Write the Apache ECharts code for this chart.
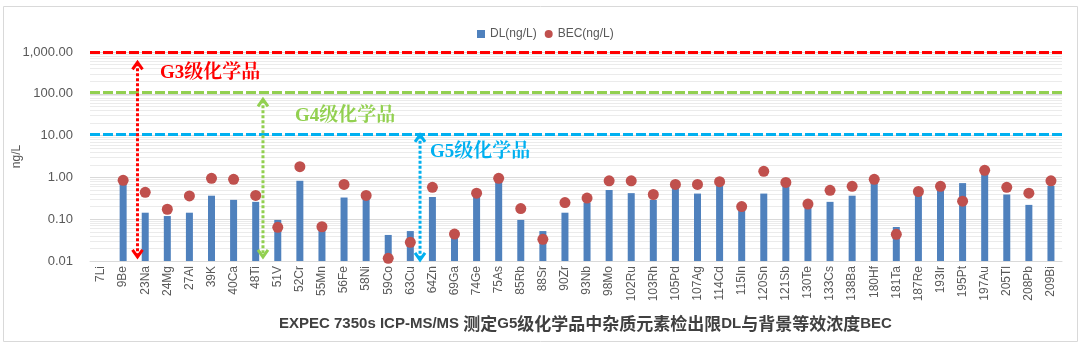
<!DOCTYPE html>
<html>
<head>
<meta charset="utf-8">
<script src="https://cdn.jsdelivr.net/npm/echarts@6/dist/echarts.min.js"></script>
<style>
  html, body { margin: 0; padding: 0; background: #fff; }
  #main { width: 1090px; height: 351px; }
</style>
</head>
<body>
<div id="main"></div>
<script>
// categories (isotope + element)
const elements = ['7Li', '9Be', '23Na', '24Mg', '27Al', '39K', '40Ca', '48Ti', '51V', '52Cr',
  '55Mn', '56Fe', '58Ni', '59Co', '63Cu', '64Zn', '69Ga', '74Ge', '75As', '85Rb',
  '88Sr', '90Zr', '93Nb', '98Mo', '102Ru', '103Rh', '105Pd', '107Ag', '114Cd', '115In',
  '120Sn', '121Sb', '130Te', '133Cs', '138Ba', '180Hf', '181Ta', '187Re', '193Ir', '195Pt',
  '197Au', '205Tl', '208Pb', '209Bi'];

// detection limit, ng/L
const dlValues = [null, 0.85, 0.143, 0.119, 0.143, 0.365, 0.29, 0.26, 0.096, 0.83,
  0.06, 0.33, 0.34, 0.042, 0.052, 0.34, 0.036, 0.36, 0.87, 0.096,
  0.052, 0.143, 0.25, 0.50, 0.42, 0.29, 0.60, 0.41, 0.72, 0.18,
  0.41, 0.68, 0.20, 0.26, 0.365, 0.79, 0.065, 0.43, 0.55, 0.73,
  1.29, 0.39, 0.22, 0.63];

// background equivalent concentration, ng/L
const becValues = [null, 0.85, 0.44, 0.173, 0.36, 0.95, 0.90, 0.37, 0.064, 1.80,
  0.066, 0.68, 0.37, 0.0116, 0.028, 0.58, 0.044, 0.42, 0.95, 0.18,
  0.033, 0.25, 0.32, 0.83, 0.83, 0.39, 0.68, 0.68, 0.79, 0.20,
  1.40, 0.76, 0.23, 0.49, 0.61, 0.90, 0.0436, 0.46, 0.61, 0.27,
  1.48, 0.58, 0.42, 0.83];

// grade limits (dashed lines)
const gradeNames = ['G3级化学品', 'G4级化学品', 'G5级化学品'];
const gradeLimits = [1000, 107, 10.7];
const gradeColors = ['#FF0000', '#92D050', '#00B0F0'];

const chart = echarts.init(document.getElementById('main'));

// minor log gridlines 2..9 per decade
const minorLines = [];
for (let e = -2; e < 3; e++) {
  for (let m = 2; m <= 9; m++) {
    minorLines.push({ yAxis: m * Math.pow(10, e) });
  }
}

const fmt = v => Number(v).toLocaleString('en-US', { minimumFractionDigits: 2, maximumFractionDigits: 2 });

const option = {
  animation: false,
  textStyle: { fontFamily: '"Liberation Sans", "Noto Sans CJK SC", sans-serif' },
  title: {
    text: '{a|EXPEC 7350s ICP-MS/MS }{b|测定}{a|G5}{b|级化学品中杂质元素检出限}{a|DL}{b|与背景等效浓度}{a|BEC}',
    left: 274,
    top: 310,
    textStyle: {
      rich: {
        a: { fontSize: 15, fontWeight: 'bold', color: '#404040', fontFamily: '"Liberation Sans Narrow", "Liberation Sans", sans-serif' },
        b: { fontSize: 17, fontWeight: 'bold', color: '#404040', fontFamily: '"Noto Sans CJK SC", sans-serif' }
      }
    }
  },
  legend: {
    top: 23,
    left: 472,
    itemGap: 8,
    itemWidth: 8,
    itemHeight: 8,
    textStyle: { fontSize: 12, color: '#595959' },
    data: [
      { name: 'DL(ng/L)', icon: 'rect' },
      { name: 'BEC(ng/L)', icon: 'circle' }
    ]
  },
  grid: { left: 90, right: 28, top: 52, bottom: 90, outerBoundsMode: 'none', containLabel: false },
  xAxis: {
    type: 'category',
    data: elements,
    axisLine: { lineStyle: { color: '#d9d9d9' } },
    axisTick: { show: false },
    axisLabel: { rotate: 90, fontSize: 12, color: '#595959', interval: 0, margin: 5 }
  },
  yAxis: {
    type: 'log',
    logBase: 10,
    min: 0.01,
    max: 1000,
    startValue: 0.01,
    name: 'ng/L',
    nameLocation: 'middle',
    nameGap: 67,
    nameMoveOverlap: false,
    nameRotate: 90,
    nameTextStyle: { fontSize: 12, color: '#595959' },
    axisLine: { show: false },
    axisTick: { show: false },
    axisLabel: { fontSize: 13, color: '#595959', margin: 17, formatter: fmt },
    splitLine: { lineStyle: { color: '#d9d9d9', width: 1 } }
  },
  series: [
    {
      name: 'DL(ng/L)',
      type: 'bar',
      data: dlValues,
      barWidth: 7,
      itemStyle: { color: '#4F81BD' },
      markLine: {
        silent: true,
        symbol: 'none',
        label: { show: false },
        lineStyle: { color: '#ebebeb', width: 1, type: 'solid' },
        data: minorLines,
        z: 0
      },
      z: 3
    },
    {
      name: 'BEC(ng/L)',
      type: 'scatter',
      data: becValues,
      symbol: 'circle',
      symbolSize: 11,
      itemStyle: { color: '#C0504D', opacity: 1 },
      markLine: {
        silent: true,
        symbol: 'none',
        label: { show: false },
        data: gradeLimits.map((v, i) => ({
          yAxis: v,
          lineStyle: { color: gradeColors[i], width: 3, type: [10, 3] }
        }))
      },
      z: 4
    }
  ]
};

chart.setOption(option);

// dotted double arrows and grade labels
const arrowSpots = [
  { from: 1, to: 2, frac: 0.65, top: 600, bottom: 0.0118 },
  { from: 7, to: 8, frac: 0.33, top: 78, bottom: 0.0118 },
  { from: 14, to: 15, frac: 0.44, top: 11, bottom: 0.0101 }
];

const graphics = [{
  type: 'rect',
  shape: { x: 3.5, y: 6.5, width: 1074, height: 335 },
  style: { fill: 'none', stroke: '#d9d9d9', lineWidth: 1 },
  silent: true
}];

arrowSpots.forEach((a, i) => {
  const x1 = chart.convertToPixel({ xAxisIndex: 0 }, elements[a.from]);
  const x2 = chart.convertToPixel({ xAxisIndex: 0 }, elements[a.to]);
  const x = x1 + (x2 - x1) * a.frac;
  const yt = chart.convertToPixel({ yAxisIndex: 0 }, a.top);
  const yb = chart.convertToPixel({ yAxisIndex: 0 }, a.bottom);
  const c = gradeColors[i];
  graphics.push(
    {
      type: 'line', z: 50,
      shape: { x1: x, y1: yt + 2, x2: x, y2: yb - 2 },
      style: { stroke: c, lineWidth: 3, lineDash: [3, 2] }
    },
    {
      type: 'polyline', z: 50,
      shape: { points: [[x - 5, yt + 8], [x, yt + 1], [x + 5, yt + 8]] },
      style: { stroke: c, lineWidth: 3, fill: 'none' }
    },
    {
      type: 'polyline', z: 50,
      shape: { points: [[x - 5, yb - 8], [x, yb - 1], [x + 5, yb - 8]] },
      style: { stroke: c, lineWidth: 3, fill: 'none' }
    }
  );
});

const labelSpots = [[160, 73], [295, 116], [430, 152]];
labelSpots.forEach((p, i) => {
  graphics.push({
    type: 'text', z: 50,
    x: p[0], y: p[1],
    style: {
      text: gradeNames[i],
      fill: gradeColors[i],
      font: 'bold 19px "Liberation Serif", "Noto Serif CJK SC", "Noto Sans CJK SC", serif',
      verticalAlign: 'middle'
    }
  });
});

chart.setOption({ graphic: graphics });
</script>
</body>
</html>
